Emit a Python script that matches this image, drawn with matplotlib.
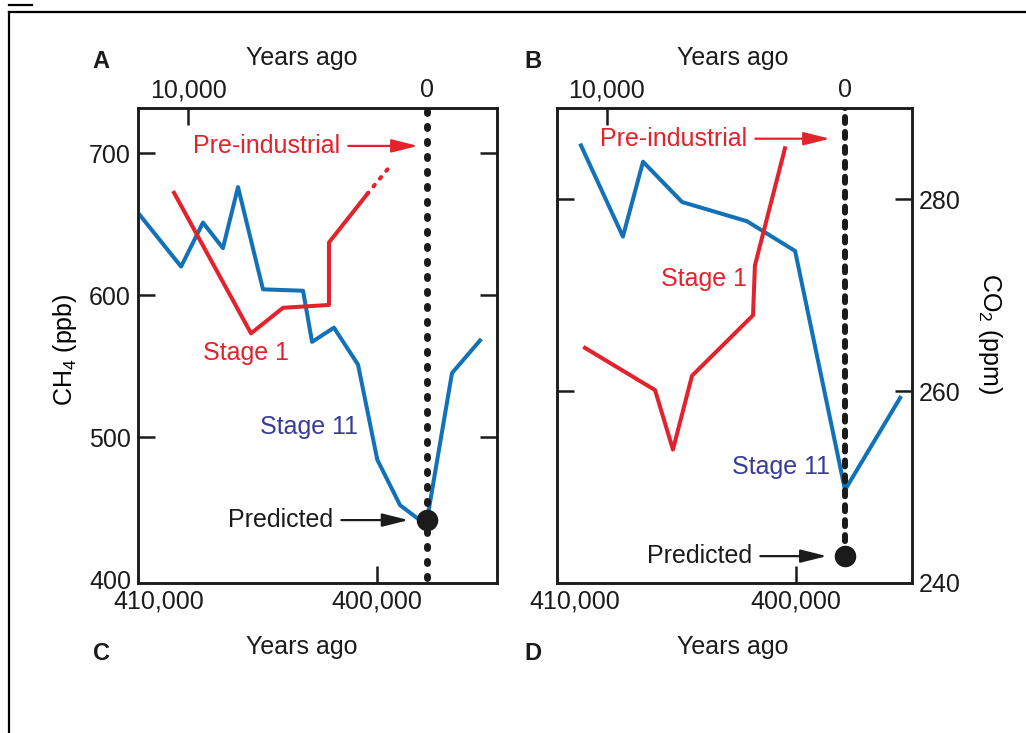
import matplotlib
matplotlib.use("Agg")
import matplotlib.pyplot as plt
from matplotlib.lines import Line2D

plt.rcParams["font.family"] = ["Liberation Sans", "DejaVu Sans"]
plt.rcParams["mathtext.fontset"] = "custom"
plt.rcParams["mathtext.rm"] = "Liberation Sans"
plt.rcParams["mathtext.it"] = "Liberation Sans:italic"

BLUE = "#1172b9"
RED = "#e4222c"
NAVY = "#393c97"
INK = "#1b1b1b"
FS = 18

# Methane: stage 11 on the lower (years ago) axis, stage 1 on the upper axis
ch4_stage11_years = [410930, 408960, 407960, 407050, 406360, 405220, 403390,
                     402980, 401980, 400880, 400000, 398960, 398190, 397730,
                     396590, 395310]
ch4_stage11_ppb = [658, 620, 651, 633, 676, 604, 603, 567, 577, 551, 484,
                   452, 443, 441.5, 545, 568]
ch4_stage1_years = [10600, 7370, 6030, 4100, 4100, 2500]
ch4_stage1_ppb = [672, 573, 591, 593, 637, 671]
ch4_trend_years = [2500, 1620]
ch4_trend_ppb = [671, 689]
ch4_preindustrial = 705
ch4_predicted = 441.5

# Carbon dioxide
co2_stage11_years = [409730, 407830, 406920, 405150, 402210, 400030, 397770,
                     395270]
co2_stage11_ppm = [285.6, 276.1, 283.9, 279.7, 277.7, 274.6, 249.7, 259.3]
co2_stage1_years = [10910, 7970, 7220, 6420, 3860, 3780, 2520]
co2_stage1_ppm = [264.5, 260.1, 253.9, 261.6, 267.9, 273.1, 285.3]
co2_preindustrial = 286.3
co2_predicted = 242.8

# ticks drawn as inward marks (major) and label-only positions (minor)
bottom_major, bottom_major_lbl = [400000], ["400,000"]
bottom_minor, bottom_minor_lbl = [410000], ["410,000"]
top_major, top_major_lbl = [10000], ["10,000"]
top_minor, top_minor_lbl = [0], ["0"]

ARROW = "-|>,head_length=1.6,head_width=0.4"


def style_axes(ax):
    for sp in ax.spines.values():
        sp.set_linewidth(1.8)
        sp.set_color(INK)
    ax.tick_params(which="major", direction="in", length=12.5, width=1.8,
                   color=INK, labelsize=FS, labelcolor=INK)
    ax.tick_params(which="minor", direction="in", length=0,
                   labelsize=FS, labelcolor=INK)


def draw_panel(ax, bottom_lim, top_lim, ylim, yticks, yminor, ylabel, yside,
               s11_x, s11_y, s1_x, s1_y, pre_y, pred_y, notes):
    ax.set_xlim(*bottom_lim)
    ax.set_ylim(*ylim)
    style_axes(ax)
    ax.plot(s11_x, s11_y, color=BLUE, lw=2.9, zorder=3)

    ax.set_xticks(bottom_major, bottom_major_lbl)
    ax.set_xticks(bottom_minor, bottom_minor_lbl, minor=True)
    ax.set_yticks(yticks)
    ax.set_yticks(yminor, [str(v) for v in yminor], minor=True)
    ax.tick_params(axis="x", which="both", pad=5)
    ax.tick_params(axis="y", which="both", left=True, right=True, pad=5,
                   labelleft=(yside == "left"), labelright=(yside == "right"))
    if yside == "right":
        ax.yaxis.set_label_position("right")
        lab = ax.set_ylabel(ylabel, fontsize=FS, rotation=-90)
    else:
        lab = ax.set_ylabel(ylabel, fontsize=FS)
    lab.set_va("center")

    top = ax.twiny()
    top.set_xlim(*top_lim)
    style_axes(top)
    top.set_xticks(top_major, top_major_lbl)
    top.set_xticks(top_minor, top_minor_lbl, minor=True)
    top.tick_params(axis="x", which="both", pad=4)
    top.plot(s1_x, s1_y, color=RED, lw=2.9, zorder=3)

    # present-day marker line, ending at the given value
    y0, y1 = ylim
    top.axvline(0, ymin=(notes["line_end"] - y0) / (y1 - y0), ymax=1,
                color=INK, lw=notes["dot_lw"], linestyle=notes["dot_ls"],
                dash_capstyle="round", zorder=4)
    top.plot([0], [pred_y], "o", color=INK, ms=14.5, zorder=5)

    top.annotate("Pre-industrial", xy=(notes["pre_tip"], pre_y),
                 xytext=(notes["pre_text"], pre_y), ha="right", va="center",
                 color=RED, fontsize=FS,
                 arrowprops=dict(arrowstyle=ARROW, mutation_scale=10, color=RED,
                                 lw=1.6, shrinkA=4, shrinkB=0, relpos=(1, 0.5)))
    top.annotate("Predicted", xy=(0, pred_y),
                 xytext=(notes["pred_text"], pred_y), ha="right", va="center",
                 color=INK, fontsize=FS,
                 arrowprops=dict(arrowstyle=ARROW, mutation_scale=10, color=INK,
                                 lw=1.6, shrinkA=4, shrinkB=13, relpos=(1, 0.5)))
    top.text(*notes["stage1"], "Stage 1", color=RED, fontsize=FS,
             ha="center", va="center")
    top.text(*notes["stage11"], "Stage 11", color=NAVY, fontsize=FS,
             ha="center", va="center")
    return top


fig = plt.figure(figsize=(10.26, 7.33), dpi=100)
fig.patch.set_facecolor("white")

W, H = 1026, 733
ax_a = fig.add_axes([138 / W, 1 - 583 / H, 359 / W, 475 / H])
ax_b = fig.add_axes([557 / W, 1 - 583 / H, 355 / W, 475 / H])

top_a = draw_panel(ax_a, (410927, 394534), (12111, -2949), (397.2, 731.7),
                   [500, 600, 700], [400], r"CH$\mathregular{_4}$ (ppb)", "left",
                   ch4_stage11_years, ch4_stage11_ppb,
                   ch4_stage1_years, ch4_stage1_ppb,
                   ch4_preindustrial, ch4_predicted,
                   dict(pre_tip=365, pre_text=3640, pred_text=3930,
                        stage1=(7580, 559), stage11=(4940, 507),
                        line_end=401, dot_lw=5.0, dot_ls=(0, (0.3, 1.86))))
# dotted continuation of the stage 1 methane rise
top_a.plot(ch4_trend_years, ch4_trend_ppb, color=RED, lw=2.9,
           linestyle=(0, (0.5, 2.0)), dash_capstyle="round")
ax_a.yaxis.set_label_coords(-0.203, 0.4905)

draw_panel(ax_b, (410816, 394735), (12085, -2811), (240, 289.5),
           [260, 280], [240], r"CO$\mathregular{_2}$ (ppm)", "right",
           co2_stage11_years, co2_stage11_ppm, co2_stage1_years, co2_stage1_ppm,
           co2_preindustrial, co2_predicted,
           dict(pre_tip=629, pre_text=4112, pred_text=3902,
                stage1=(5916, 271.7), stage11=(2706, 252.1),
                line_end=co2_predicted, dot_lw=4.3, dot_ls=(0, (1.0, 1.5))))
ax_b.yaxis.set_label_coords(1.22, 0.526)

# axis titles above and below each panel
for ax, xc in ((ax_a, 0.457), (ax_b, 0.496)):
    ax.text(xc, 1.105, "Years ago", transform=ax.transAxes, fontsize=FS,
            ha="center", va="center", color=INK)
    ax.text(xc, -0.135, "Years ago", transform=ax.transAxes, fontsize=FS,
            ha="center", va="center", color=INK)

for letter, x, y in (("A", 101, 62), ("B", 533, 62), ("C", 101, 653), ("D", 533, 653)):
    fig.text(x / W, 1 - y / H, letter, fontsize=17, fontweight="bold",
             ha="center", va="center", color=INK)

# page frame
fig.add_artist(Line2D([9 / W, 9 / W], [0, 1 - 12 / H], transform=fig.transFigure,
                      color="black", lw=1.6))
fig.add_artist(Line2D([9 / W, 1], [1 - 12 / H, 1 - 12 / H], transform=fig.transFigure,
                      color="black", lw=1.6))
fig.add_artist(Line2D([9 / W, 32 / W], [1 - 5 / H, 1 - 5 / H], transform=fig.transFigure,
                      color="black", lw=1.6))

fig.savefig("out.png", dpi=100, facecolor="white")
